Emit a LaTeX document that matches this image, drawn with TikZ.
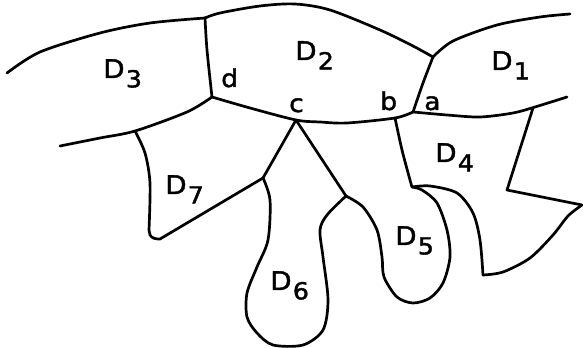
\documentclass[tikz,border=0pt]{standalone}
\usepackage{fontspec}
\setmainfont{DejaVu Sans}[FakeBold=1.6,FakeStretch=1.08]
\begin{document}
\begin{tikzpicture}[x=0.03cm,y=-0.03cm,
  edge/.style={line width=2.3pt,line cap=round,line join=round},
  big/.style={anchor=base west,inner sep=0pt,font=\fontsize{22}{22}\selectfont},
  small/.style={anchor=base west,inner sep=0pt,font=\fontsize{21}{21}\selectfont}]
\newcommand{\dsub}[1]{D\kern1pt\raisebox{-8pt}{\fontsize{20}{20}\selectfont #1}}
\useasboundingbox (0,0) rectangle (583,348);
% junctions
\coordinate (TL) at (205,18);
\coordinate (TR) at (433,57);
\coordinate (A) at (413,112);
\coordinate (B) at (395,118);
\coordinate (C) at (296,120);
\coordinate (Dd) at (212,97);
\coordinate (E7) at (135,131);
\coordinate (F) at (263,178);
\coordinate (G) at (346,196);
\coordinate (H) at (412,187);
\coordinate (R1) at (533,108);
% top outlines
\draw[edge] plot[smooth] coordinates {(7,73) (40,52) (100,33) (150,23) (TL)};
\draw[edge] plot[smooth] coordinates {(TL) (220,13) (260,6) (295,4) (330,10) (380,30) (413,46) (TR)};
\draw[edge] plot[smooth] coordinates {(TR) (453,41) (497,25) (540,17) (570,14)};
\draw[edge] plot[smooth] coordinates {(TR) (423,83) (A)};
\draw[edge] plot[smooth] coordinates {(A) (447,115) (480,117) (513,113) (535,107) (567,97)};
\draw[edge] plot[smooth] coordinates {(Dd) (250,108) (C) (320,122) (347,123) (B) (A)};
\draw[edge] plot[smooth] coordinates {(TL) (207,50) (Dd)};
\draw[edge] plot[smooth] coordinates {(Dd) (187,112) (E7) (100,138) (60,146)};
% D7
\draw[edge] plot[smooth] coordinates {(E7) (145,153) (150,183) (149,230)} -- (150,235) to[out=-60,in=180] (160,239) -- (F);
% c lines
\draw[edge] (C) -- (F);
\draw[edge] (C) -- (G);
% D6
\draw[edge] plot[smooth] coordinates {(F) (270,200) (268,240) (257,267) (247,293) (247,317) (257,333) (273,345) (303,345) (323,330) (328,300) (323,257) (320,230) (327,215) (G)};
% D5
\draw[edge] plot[smooth] coordinates {(G) (363,207) (377,230) (382,257) (384,277) (397,297) (413,303) (430,298) (443,283) (450,257) (447,230) (437,203) (422,190) (H)};
% b line
\draw[edge] plot[smooth] coordinates {(B) (402,150) (410,180) (H)};
% D4
\draw[edge] plot[smooth] coordinates {(H) (430,186) (457,193) (473,213) (480,240) (483,275)};
\draw[edge] plot[smooth] coordinates {(483,275) (503,272) (530,258) (553,235) (568,216) (582,205)};
\draw[edge] (582,205) -- (507,190) -- (R1);
% labels
\node[big] (l3) at (103,78) {\dsub{3}};
\node[big] (l2) at (295,60) {\dsub{2}};
\node[big] (l1) at (491,70) {\dsub{1}};
\node[big] (l4) at (435,162) {\dsub{4}};
\node[big] (l5) at (395,245) {\dsub{5}};
\node[big] (l6) at (270,290) {\dsub{6}};
\node[big] (l7) at (165,194) {\dsub{7}};
\node[small] (ld) at (221,87) {d};
\node[small] (lc) at (289,112) {c};
\node[small] (lb) at (380,110) {b};
\node[small] (la) at (424,110) {a};
\end{tikzpicture}
\end{document}
